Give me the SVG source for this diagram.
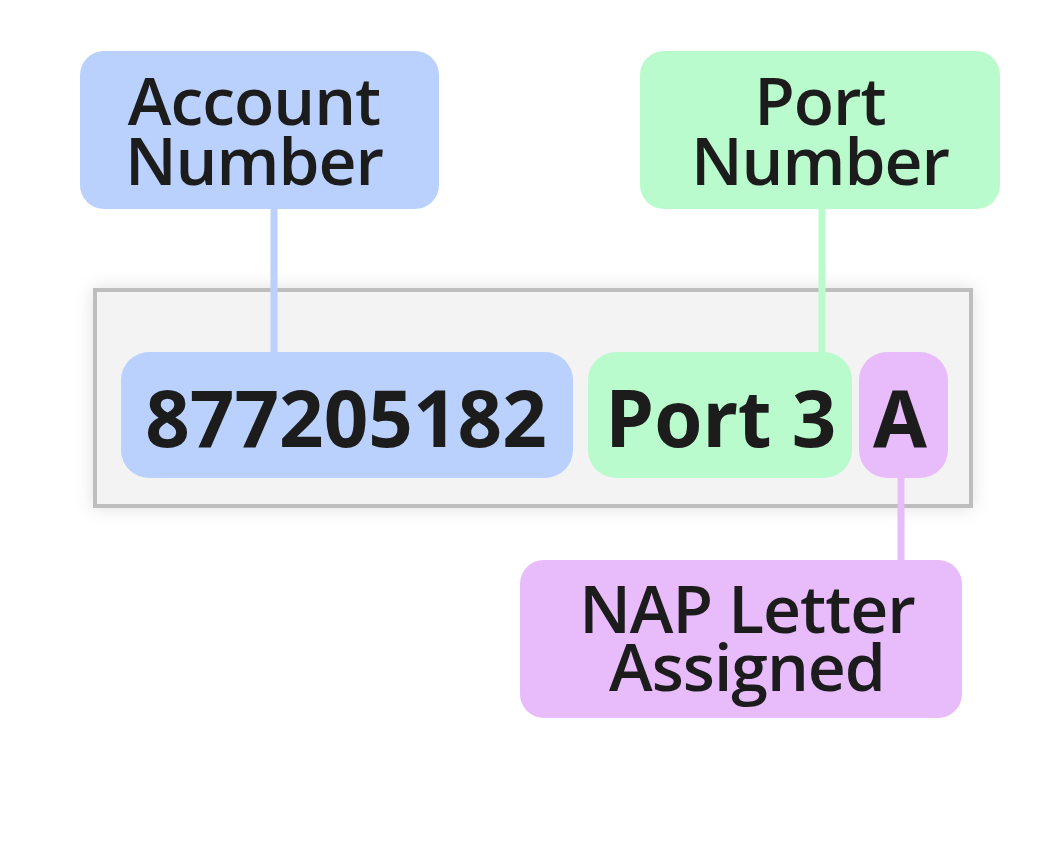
<svg xmlns="http://www.w3.org/2000/svg" width="1042" height="853" viewBox="0 0 1042 853">
<defs>
<filter id="sh" x="-10%" y="-20%" width="120%" height="140%">
<feDropShadow dx="0" dy="0" stdDeviation="9" flood-color="#000" flood-opacity="0.12"/>
</filter>
<style>
.lbl{font-family:"Open Sans","Noto Sans",sans-serif;font-weight:600;font-size:66px;fill:#1c1c1c;text-anchor:middle;letter-spacing:-1px}
.val{font-family:"Noto Sans","DejaVu Sans",sans-serif;font-weight:700;font-size:78px;fill:#1c1c1c;text-anchor:middle}
.blue{fill:#bad0fd}
.green{fill:#b9fbcd}
.purple{fill:#e8bbfb}
.cb{stroke:#bad0fd;stroke-width:7;fill:none}
.cg{stroke:#b9fbcd;stroke-width:7;fill:none}
.cp{stroke:#e8bbfb;stroke-width:7;fill:none}
</style>
</defs>
<rect width="1042" height="853" fill="#ffffff"/>
<g id="frame">
<rect x="95" y="290" width="876" height="216" fill="#f3f3f3" stroke="#bebebe" stroke-width="4" filter="url(#sh)"/>
</g>
<g id="connectors">
<line class="cb" x1="274" y1="205" x2="274" y2="356"/>
<line class="cg" x1="822" y1="205" x2="822" y2="356"/>
<line class="cp" x1="901" y1="474" x2="901" y2="564"/>
</g>
<g id="account-label">
<rect class="blue" x="80" y="51" width="359" height="158" rx="24"/>
<text class="lbl" x="254" y="125">Account</text>
<text class="lbl" x="254" y="185">Number</text>
</g>
<g id="port-label">
<rect class="green" x="640" y="51" width="360" height="158" rx="24"/>
<text class="lbl" x="820" y="125">Port</text>
<text class="lbl" x="820" y="185">Number</text>
</g>
<g id="nap-label">
<rect class="purple" x="520" y="560" width="442" height="158" rx="24"/>
<text class="lbl" x="747" y="633">NAP Letter</text>
<text class="lbl" x="747" y="691">Assigned</text>
</g>
<g id="account-value">
<rect class="blue" x="121" y="352" width="452" height="126" rx="28"/>
<text class="val" x="346" y="447">877205182</text>
</g>
<g id="port-value">
<rect class="green" x="588" y="352" width="264" height="126" rx="28"/>
<text class="val" x="721" y="447">Port 3</text>
</g>
<g id="nap-value">
<rect class="purple" x="859" y="352" width="89" height="126" rx="28"/>
<text class="val" x="900" y="447">A</text>
</g>
</svg>
